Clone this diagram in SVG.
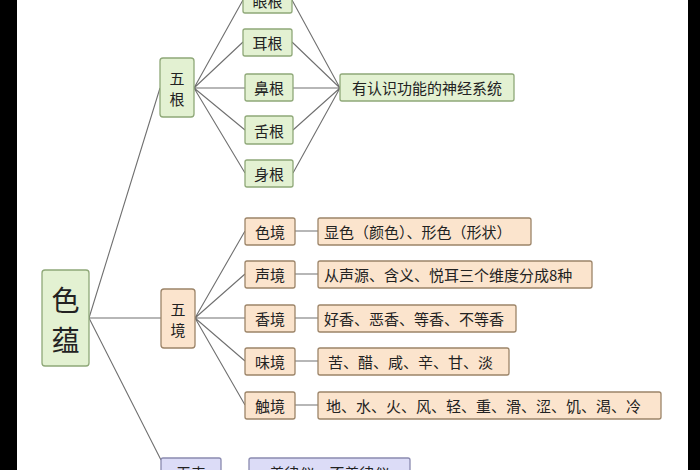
<svg xmlns="http://www.w3.org/2000/svg" width="700" height="470" viewBox="0 0 700 470">
<style>
text{font-family:"Noto Sans CJK SC","Noto Sans",sans-serif;font-size:15px;fill:#222;text-anchor:middle;dominant-baseline:central}
.g{fill:#e3f1d2;stroke:#8fa878;stroke-width:1.3}
.o{fill:#fbe4cd;stroke:#9c8468;stroke-width:1.3}
.p{fill:#dcdcf7;stroke:#8a8ab0;stroke-width:1.3}
.l{stroke:#707070;stroke-width:1.1;fill:none}
.d{text-anchor:start}
</style>
<rect width="700" height="470" fill="#fff"/>
<rect x="0" y="0" width="17" height="470" fill="#000"/>
<rect x="688" y="0" width="12" height="470" fill="#000"/>
<g id="connectors" class="l">
<path d="M89 318L160 88M89 318H161M89 318L161 460"/>
<path d="M194 88L243 0M194 88L243 42M194 88H245M194 88L245 130M194 88L245 173"/>
<path d="M292 0L340 88M292 42L340 88M293 88H340M293 130L340 88M293 173L340 88"/>
<path d="M195 318L245 231M195 318L245 274M195 318H245M195 318L245 361M195 318L245 405"/>
<path d="M295 231H318M295 274H318M295 318H318M295 361H318M295 405H318"/>
</g>
<g id="seyun"><rect class="g" x="42" y="270" width="47" height="96" rx="3"/><text x="65.5" y="299" style="font-size:28px">色</text><text x="65.5" y="339" style="font-size:28px">蕴</text></g>
<g id="wugen"><rect class="g" x="160" y="58" width="34" height="59" rx="3"/><text x="177" y="77">五</text><text x="177" y="98">根</text></g>
<g id="yangen"><rect class="g" x="243" y="-14" width="49" height="27" rx="2"/><text x="267.5" y="0">眼根</text></g>
<g id="ergen"><rect class="g" x="243" y="29" width="49" height="27" rx="2"/><text x="267.5" y="42.5">耳根</text></g>
<g id="bigen"><rect class="g" x="245" y="74" width="48" height="27" rx="2"/><text x="269" y="87.5">鼻根</text></g>
<g id="shegen"><rect class="g" x="245" y="116" width="48" height="28" rx="2"/><text x="269" y="130">舌根</text></g>
<g id="shengen"><rect class="g" x="245" y="160" width="48" height="27" rx="2"/><text x="269" y="173.5">身根</text></g>
<g id="shenjing"><rect class="g" x="340" y="74" width="174" height="27" rx="2"/><text x="427" y="87.5">有认识功能的神经系统</text></g>
<g id="wujing"><rect class="o" x="161" y="289" width="34" height="59" rx="3"/><text x="178" y="308">五</text><text x="178" y="329">境</text></g>
<g id="sejing"><rect class="o" x="245" y="218" width="50" height="27" rx="2"/><text x="270" y="231.5">色境</text></g>
<g id="shengjing"><rect class="o" x="245" y="261" width="50" height="27" rx="2"/><text x="270" y="274.5">声境</text></g>
<g id="xiangjing"><rect class="o" x="245" y="305" width="50" height="27" rx="2"/><text x="270" y="318.5">香境</text></g>
<g id="weijing"><rect class="o" x="245" y="348" width="50" height="27" rx="2"/><text x="270" y="361.5">味境</text></g>
<g id="chujing"><rect class="o" x="245" y="392" width="50" height="27" rx="2"/><text x="270" y="405.5">触境</text></g>
<g id="d1"><rect class="o" x="318" y="218" width="213" height="27" rx="2"/><text class="d" x="324" y="231.5">显色（颜色）、形色（形状）</text></g>
<g id="d2"><rect class="o" x="318" y="261" width="274" height="27" rx="2"/><text class="d" x="324" y="274.5">从声源、含义、悦耳三个维度分成8种</text></g>
<g id="d3"><rect class="o" x="318" y="305" width="198" height="27" rx="2"/><text class="d" x="324" y="318.5">好香、恶香、等香、不等香</text></g>
<g id="d4"><rect class="o" x="318" y="348" width="191" height="27" rx="2"/><text class="d" x="328" y="361.5">苦、醋、咸、辛、甘、淡</text></g>
<g id="d5"><rect class="o" x="318" y="392" width="343" height="27" rx="2"/><text class="d" x="326" y="405.5">地、水、火、风、轻、重、滑、涩、饥、渴、冷</text></g>
<g id="wubiao"><rect class="p" x="161" y="458" width="60" height="27" rx="2"/><text x="191" y="472">无表</text></g>
<g id="lvyi"><rect class="p" x="249" y="458" width="161" height="27" rx="2"/><text x="329.5" y="472">善律仪、不善律仪</text></g>
</svg>
